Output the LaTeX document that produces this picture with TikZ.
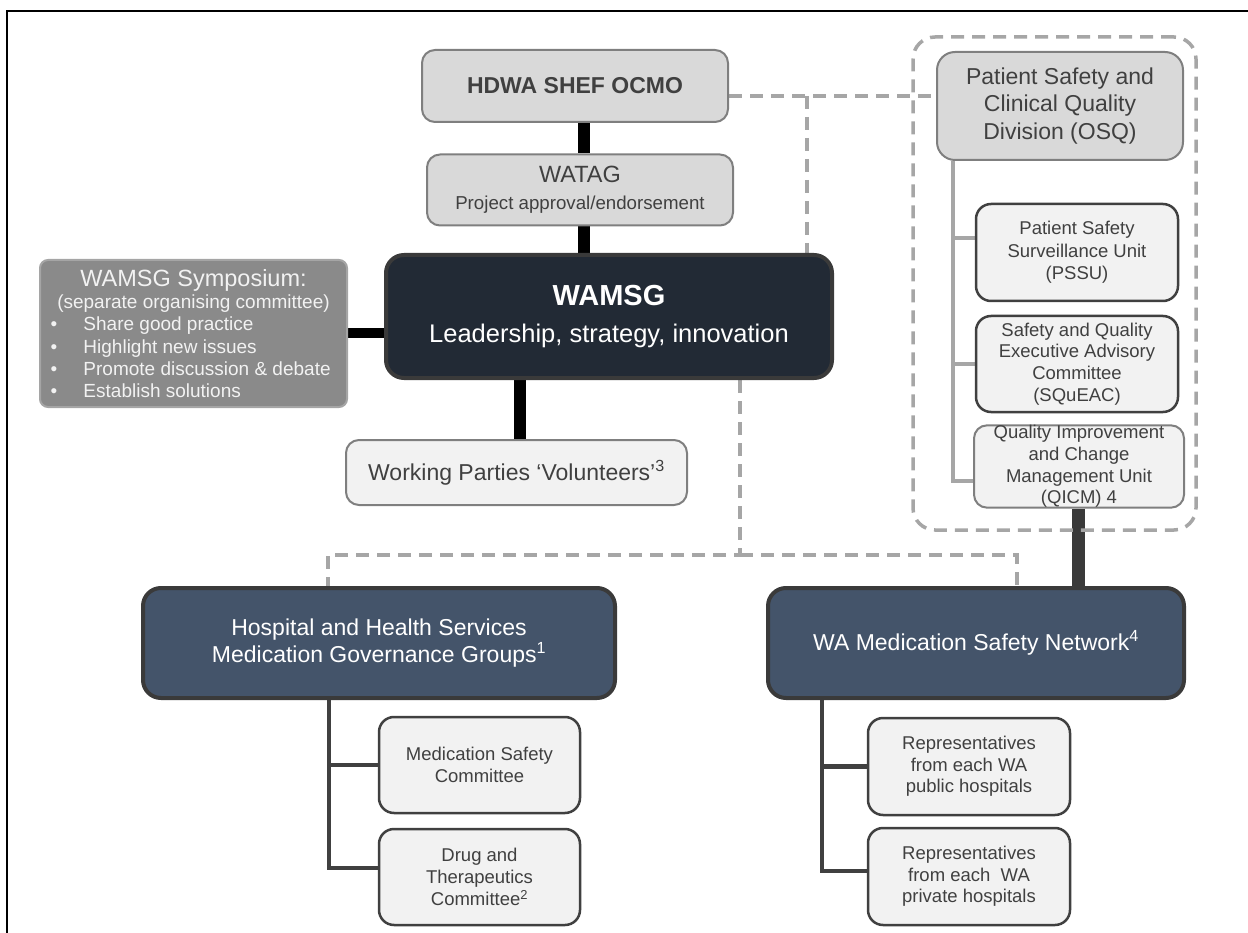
\documentclass[tikz,border=0pt]{standalone}
\usepackage{fontspec}
\setmainfont{Liberation Sans}
\usetikzlibrary{backgrounds,calc}
\definecolor{cLightA}{HTML}{D9D9D9}
\definecolor{cLightB}{HTML}{F2F2F2}
\definecolor{cBorderGray}{HTML}{7F7F7F}
\definecolor{cBorderDark}{HTML}{404040}
\definecolor{cText}{HTML}{404040}
\definecolor{cNavy}{HTML}{222A35}
\definecolor{cSlate}{HTML}{44546A}
\definecolor{cSymp}{HTML}{8A8A8A}
\definecolor{cSympBorder}{HTML}{A5A5A5}
\definecolor{cDash}{HTML}{A6A6A6}
\definecolor{cDarkLine}{HTML}{3A3A3A}
\newcommand\setfs[2]{\fontsize{#1}{#2}\selectfont}
\begin{document}
\begin{tikzpicture}[x=1pt,y=-1pt,
  basebox/.style={rectangle, inner sep=0pt, align=center},
  greybox/.style={basebox, fill=cLightA, draw=cBorderGray, line width=2pt, rounded corners=13pt, text=cText},
  paleboxgrey/.style={basebox, fill=cLightB, draw=cBorderGray, line width=2pt, rounded corners=13pt, text=cText},
  paleboxdark/.style={basebox, fill=cLightB, draw=cBorderDark, line width=2.5pt, rounded corners=15pt, text=cText},
  navybox/.style={basebox, fill=cNavy, draw=cDarkLine, line width=4pt, rounded corners=18pt, text=white},
  slatebox/.style={basebox, fill=cSlate, draw=cDarkLine, line width=4pt, rounded corners=18pt, text=white},
  sympbox/.style={basebox, fill=cSymp, draw=cSympBorder, line width=2pt, rounded corners=8pt, text=cLightB},
  groupbox/.style={basebox, draw=cDash, line width=3.5pt, dash pattern=on 13pt off 8pt, rounded corners=22pt},
  blackconn/.style={line width=12pt, draw=black},
  darkconn/.style={line width=13pt, draw=cDarkLine},
  dashconn/.style={line width=3.5pt, draw=cDash, dash pattern=on 13pt off 8pt},
  greytree/.style={line width=4pt, draw=cDash},
  darktree/.style={line width=4.5pt, draw=cBorderDark},
  smalltext/.style={font=\setfs{18.5}{21.7}},
  midtext/.style={font=\setfs{23}{27.5}},
]
\useasboundingbox (0,0) rectangle (1248,933);
% outer frame
\draw[line width=2pt, black] (1248,11) -- (7,11) -- (7,933);

% group container
\node[groupbox, minimum width=283pt, minimum height=493pt] (grp) at (1054.5,283.5) {};

% boxes
\node[greybox, font=\setfs{23}{27}\bfseries, minimum width=306pt, minimum height=72pt] (hdwa) at (575,86)
  {HDWA SHEF OCMO};
\node[greybox, font=\setfs{20}{27}, minimum width=306pt, minimum height=71pt] (watag) at (580,190)
  {\setfs{23.5}{27}WATAG\\\setfs{18.7}{27}Project approval/endorsement};
\node[navybox, font=\setfs{26}{37}, minimum width=446pt, minimum height=123pt] (wamsg) at (609,316.5)
  {\setfs{29}{37}\bfseries WAMSG\\\setfs{25.5}{37}Leadership, strategy, innovation};
\node[sympbox, font=\setfs{19}{22.3}, minimum width=307pt, minimum height=147pt] (symp) at (193.5,333.5)
  {\setfs{23.5}{22.3}WAMSG Symposium:\\
   (separate organising committee)\\
   \makebox[300pt][l]{\hspace*{7pt}\makebox[33pt][l]{•}Share good practice}\\
   \makebox[300pt][l]{\hspace*{7pt}\makebox[33pt][l]{•}Highlight new issues}\\
   \makebox[300pt][l]{\hspace*{7pt}\makebox[33pt][l]{•}Promote discussion \& debate}\\
   \makebox[300pt][l]{\hspace*{7pt}\makebox[33pt][l]{•}Establish solutions}};
\node[paleboxgrey, midtext, minimum width=341pt, minimum height=65pt] (wp) at (516.5,472.5)
  {Working Parties ‘Volunteers’\textsuperscript{3}};
\node[slatebox, font=\setfs{23}{27}, minimum width=472pt, minimum height=110pt] (hhs) at (379,643)
  {Hospital and Health Services\\Medication Governance Groups\textsuperscript{1}};
\node[slatebox, midtext, minimum width=416pt, minimum height=110pt] (wamsn) at (976,643)
  {WA Medication Safety Network\textsuperscript{4}};
\node[greybox, midtext, minimum width=246pt, minimum height=108pt, rounded corners=18pt] (osq) at (1060,106)
  {Patient Safety and\\Clinical Quality\\Division (OSQ)};
\node[paleboxdark, font=\setfs{18.5}{22.5}, minimum width=202pt, minimum height=97pt] (pssu) at (1077,252.5)
  {Patient Safety\\Surveillance Unit\\(PSSU)};
\node[paleboxdark, smalltext, minimum width=202pt, minimum height=96pt] (squeac) at (1077,364)
  {Safety and Quality\\Executive Advisory\\Committee\\(SQuEAC)};
\node[paleboxgrey, smalltext, minimum width=210pt, minimum height=81pt] (qicm) at (1079,466.5)
  {Quality Improvement\\and Change\\Management Unit\\(QICM) 4};
\node[paleboxdark, smalltext, minimum width=201pt, minimum height=96pt] (msc) at (479.5,765)
  {Medication Safety\\Committee};
\node[paleboxdark, smalltext, minimum width=201pt, minimum height=96pt] (dtc) at (479.5,877)
  {Drug and\\Therapeutics\\Committee\textsuperscript{2}};
\node[paleboxdark, smalltext, minimum width=202pt, minimum height=97pt] (pub) at (969,766.5)
  {Representatives\\from each WA\\public hospitals};
\node[paleboxdark, smalltext, minimum width=202pt, minimum height=97pt] (priv) at (969,876.5)
  {Representatives\\from each\ \ WA\\private hospitals};

% helper coordinates
\coordinate (xa) at (584,0);
\coordinate (xwp) at (520,0);
\coordinate (xq) at (1078,0);
\coordinate (ydash) at (0,96);
\coordinate (xbr) at (807,0);
\coordinate (xlow) at (740,0);
\coordinate (ylow) at (0,555);
\coordinate (xhhs) at (328,0);
\coordinate (xnet) at (1017,0);
\coordinate (tx) at (953,0);
\coordinate (yp1) at (0,238);
\coordinate (yp3) at (0,481);
\coordinate (hx) at (329,0);
\coordinate (yd) at (0,868);
\coordinate (nx) at (822,0);
\coordinate (ypr) at (0,871);

\begin{pgfonlayer}{background}
% solid black connectors
\draw[blackconn] (hdwa.south -| xa) -- (watag.north -| xa);
\draw[blackconn] (watag.south -| xa) -- (wamsg.north -| xa);
\draw[blackconn] (wamsg.south -| xwp) -- (wp.north -| xwp);
\draw[line width=10pt, black] (symp.east) -- (wamsg.west |- symp.east);
\draw[darkconn] (qicm.south -| xq) -- (wamsn.north -| xq);
% dashed links
\draw[dashconn] (hdwa.east |- ydash) -- (osq.west |- ydash);
\draw[dashconn] (xbr |- ydash) -- (wamsg.north -| xbr);
\draw[dashconn] (wamsg.south -| xlow) -- (xlow |- ylow) -- (xhhs |- ylow) -- (hhs.north -| xhhs);
\draw[dashconn] (xlow |- ylow) -- (xnet |- ylow) -- (wamsn.north -| xnet);
% OSQ tree
\draw[greytree] (osq.south -| tx) -- (tx |- yp3) -- (qicm.west |- yp3);
\draw[greytree] (tx |- yp1) -- (pssu.west |- yp1);
\draw[greytree] (tx |- squeac.west) -- (squeac.west);
% HHS tree
\draw[darktree] (hhs.south -| hx) -- (hx |- yd) -- (dtc.west |- yd);
\draw[darktree] (hx |- msc.west) -- (msc.west);
% network tree
\draw[darktree] (wamsn.south -| nx) -- (nx |- ypr) -- (priv.west |- ypr);
\draw[darktree] (nx |- pub.west) -- (pub.west);
\end{pgfonlayer}
\end{tikzpicture}
\end{document}
